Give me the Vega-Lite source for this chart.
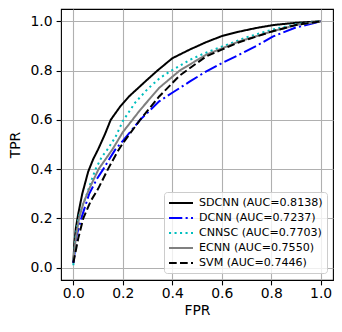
{
  "$schema": "https://vega.github.io/schema/vega-lite/v6.json",
  "width": 272,
  "height": 271,
  "autosize": {"type": "none"},
  "padding": {"left": 61, "top": 9, "right": 9, "bottom": 52},
  "config": {
    "font": "DejaVu Sans",
    "view": {"stroke": "black", "strokeWidth": 1.1},
    "axis": {
      "labelFont": "DejaVu Sans", "labelFontSize": 13.9, "labelColor": "black",
      "titleFont": "DejaVu Sans", "titleFontSize": 13.9, "titleFontWeight": "normal", "titleColor": "black",
      "gridColor": "#b0b0b0", "gridWidth": 1.1, "gridOpacity": 1,
      "domain": false, "tickColor": "black", "tickSize": 4.9, "tickWidth": 1.1
    }
  },
  "data": {"values": [
    {"model": "SDCNN (AUC=0.8138)", "fpr": 0, "tpr": 0.02},
    {"model": "SDCNN (AUC=0.8138)", "fpr": 0.004, "tpr": 0.1},
    {"model": "SDCNN (AUC=0.8138)", "fpr": 0.01, "tpr": 0.16},
    {"model": "SDCNN (AUC=0.8138)", "fpr": 0.02, "tpr": 0.22},
    {"model": "SDCNN (AUC=0.8138)", "fpr": 0.036, "tpr": 0.30},
    {"model": "SDCNN (AUC=0.8138)", "fpr": 0.06, "tpr": 0.39},
    {"model": "SDCNN (AUC=0.8138)", "fpr": 0.08, "tpr": 0.44},
    {"model": "SDCNN (AUC=0.8138)", "fpr": 0.1, "tpr": 0.48},
    {"model": "SDCNN (AUC=0.8138)", "fpr": 0.127, "tpr": 0.54},
    {"model": "SDCNN (AUC=0.8138)", "fpr": 0.151, "tpr": 0.60},
    {"model": "SDCNN (AUC=0.8138)", "fpr": 0.19, "tpr": 0.655},
    {"model": "SDCNN (AUC=0.8138)", "fpr": 0.225, "tpr": 0.695},
    {"model": "SDCNN (AUC=0.8138)", "fpr": 0.29, "tpr": 0.755},
    {"model": "SDCNN (AUC=0.8138)", "fpr": 0.34, "tpr": 0.80},
    {"model": "SDCNN (AUC=0.8138)", "fpr": 0.40, "tpr": 0.85},
    {"model": "SDCNN (AUC=0.8138)", "fpr": 0.47, "tpr": 0.885},
    {"model": "SDCNN (AUC=0.8138)", "fpr": 0.536, "tpr": 0.915},
    {"model": "SDCNN (AUC=0.8138)", "fpr": 0.6, "tpr": 0.94},
    {"model": "SDCNN (AUC=0.8138)", "fpr": 0.67, "tpr": 0.958},
    {"model": "SDCNN (AUC=0.8138)", "fpr": 0.74, "tpr": 0.973},
    {"model": "SDCNN (AUC=0.8138)", "fpr": 0.81, "tpr": 0.985},
    {"model": "SDCNN (AUC=0.8138)", "fpr": 0.9, "tpr": 0.994},
    {"model": "SDCNN (AUC=0.8138)", "fpr": 1, "tpr": 1},

    {"model": "DCNN (AUC=0.7237)", "fpr": 0, "tpr": 0.02},
    {"model": "DCNN (AUC=0.7237)", "fpr": 0.005, "tpr": 0.06},
    {"model": "DCNN (AUC=0.7237)", "fpr": 0.013, "tpr": 0.13},
    {"model": "DCNN (AUC=0.7237)", "fpr": 0.032, "tpr": 0.20},
    {"model": "DCNN (AUC=0.7237)", "fpr": 0.064, "tpr": 0.30},
    {"model": "DCNN (AUC=0.7237)", "fpr": 0.095, "tpr": 0.36},
    {"model": "DCNN (AUC=0.7237)", "fpr": 0.121, "tpr": 0.40},
    {"model": "DCNN (AUC=0.7237)", "fpr": 0.145, "tpr": 0.44},
    {"model": "DCNN (AUC=0.7237)", "fpr": 0.17, "tpr": 0.48},
    {"model": "DCNN (AUC=0.7237)", "fpr": 0.2, "tpr": 0.515},
    {"model": "DCNN (AUC=0.7237)", "fpr": 0.27, "tpr": 0.60},
    {"model": "DCNN (AUC=0.7237)", "fpr": 0.347, "tpr": 0.675},
    {"model": "DCNN (AUC=0.7237)", "fpr": 0.40, "tpr": 0.71},
    {"model": "DCNN (AUC=0.7237)", "fpr": 0.47, "tpr": 0.755},
    {"model": "DCNN (AUC=0.7237)", "fpr": 0.536, "tpr": 0.796},
    {"model": "DCNN (AUC=0.7237)", "fpr": 0.6, "tpr": 0.83},
    {"model": "DCNN (AUC=0.7237)", "fpr": 0.67, "tpr": 0.864},
    {"model": "DCNN (AUC=0.7237)", "fpr": 0.74, "tpr": 0.90},
    {"model": "DCNN (AUC=0.7237)", "fpr": 0.806, "tpr": 0.938},
    {"model": "DCNN (AUC=0.7237)", "fpr": 0.9, "tpr": 0.975},
    {"model": "DCNN (AUC=0.7237)", "fpr": 1, "tpr": 1},

    {"model": "CNNSC (AUC=0.7703)", "fpr": 0, "tpr": 0.01},
    {"model": "CNNSC (AUC=0.7703)", "fpr": 0.008, "tpr": 0.12},
    {"model": "CNNSC (AUC=0.7703)", "fpr": 0.02, "tpr": 0.2},
    {"model": "CNNSC (AUC=0.7703)", "fpr": 0.036, "tpr": 0.25},
    {"model": "CNNSC (AUC=0.7703)", "fpr": 0.055, "tpr": 0.30},
    {"model": "CNNSC (AUC=0.7703)", "fpr": 0.075, "tpr": 0.36},
    {"model": "CNNSC (AUC=0.7703)", "fpr": 0.09, "tpr": 0.40},
    {"model": "CNNSC (AUC=0.7703)", "fpr": 0.115, "tpr": 0.45},
    {"model": "CNNSC (AUC=0.7703)", "fpr": 0.138, "tpr": 0.48},
    {"model": "CNNSC (AUC=0.7703)", "fpr": 0.17, "tpr": 0.53},
    {"model": "CNNSC (AUC=0.7703)", "fpr": 0.2, "tpr": 0.595},
    {"model": "CNNSC (AUC=0.7703)", "fpr": 0.25, "tpr": 0.67},
    {"model": "CNNSC (AUC=0.7703)", "fpr": 0.3, "tpr": 0.725},
    {"model": "CNNSC (AUC=0.7703)", "fpr": 0.35, "tpr": 0.77},
    {"model": "CNNSC (AUC=0.7703)", "fpr": 0.39, "tpr": 0.796},
    {"model": "CNNSC (AUC=0.7703)", "fpr": 0.47, "tpr": 0.843},
    {"model": "CNNSC (AUC=0.7703)", "fpr": 0.53, "tpr": 0.87},
    {"model": "CNNSC (AUC=0.7703)", "fpr": 0.6, "tpr": 0.897},
    {"model": "CNNSC (AUC=0.7703)", "fpr": 0.7, "tpr": 0.935},
    {"model": "CNNSC (AUC=0.7703)", "fpr": 0.8, "tpr": 0.965},
    {"model": "CNNSC (AUC=0.7703)", "fpr": 0.9, "tpr": 0.988},
    {"model": "CNNSC (AUC=0.7703)", "fpr": 1, "tpr": 1},

    {"model": "ECNN (AUC=0.7550)", "fpr": 0, "tpr": 0.03},
    {"model": "ECNN (AUC=0.7550)", "fpr": 0.01, "tpr": 0.12},
    {"model": "ECNN (AUC=0.7550)", "fpr": 0.023, "tpr": 0.2},
    {"model": "ECNN (AUC=0.7550)", "fpr": 0.04, "tpr": 0.26},
    {"model": "ECNN (AUC=0.7550)", "fpr": 0.064, "tpr": 0.32},
    {"model": "ECNN (AUC=0.7550)", "fpr": 0.102, "tpr": 0.40},
    {"model": "ECNN (AUC=0.7550)", "fpr": 0.13, "tpr": 0.44},
    {"model": "ECNN (AUC=0.7550)", "fpr": 0.158, "tpr": 0.48},
    {"model": "ECNN (AUC=0.7550)", "fpr": 0.2, "tpr": 0.55},
    {"model": "ECNN (AUC=0.7550)", "fpr": 0.27, "tpr": 0.64},
    {"model": "ECNN (AUC=0.7550)", "fpr": 0.347, "tpr": 0.73},
    {"model": "ECNN (AUC=0.7550)", "fpr": 0.43, "tpr": 0.80},
    {"model": "ECNN (AUC=0.7550)", "fpr": 0.536, "tpr": 0.864},
    {"model": "ECNN (AUC=0.7550)", "fpr": 0.6, "tpr": 0.89},
    {"model": "ECNN (AUC=0.7550)", "fpr": 0.67, "tpr": 0.918},
    {"model": "ECNN (AUC=0.7550)", "fpr": 0.8, "tpr": 0.958},
    {"model": "ECNN (AUC=0.7550)", "fpr": 0.9, "tpr": 0.985},
    {"model": "ECNN (AUC=0.7550)", "fpr": 1, "tpr": 1},

    {"model": "SVM (AUC=0.7446)", "fpr": 0, "tpr": 0.02},
    {"model": "SVM (AUC=0.7446)", "fpr": 0.01, "tpr": 0.07},
    {"model": "SVM (AUC=0.7446)", "fpr": 0.02, "tpr": 0.12},
    {"model": "SVM (AUC=0.7446)", "fpr": 0.04, "tpr": 0.2},
    {"model": "SVM (AUC=0.7446)", "fpr": 0.07, "tpr": 0.27},
    {"model": "SVM (AUC=0.7446)", "fpr": 0.1, "tpr": 0.32},
    {"model": "SVM (AUC=0.7446)", "fpr": 0.14, "tpr": 0.40},
    {"model": "SVM (AUC=0.7446)", "fpr": 0.178, "tpr": 0.47},
    {"model": "SVM (AUC=0.7446)", "fpr": 0.2, "tpr": 0.505},
    {"model": "SVM (AUC=0.7446)", "fpr": 0.27, "tpr": 0.60},
    {"model": "SVM (AUC=0.7446)", "fpr": 0.347, "tpr": 0.695},
    {"model": "SVM (AUC=0.7446)", "fpr": 0.43, "tpr": 0.78},
    {"model": "SVM (AUC=0.7446)", "fpr": 0.536, "tpr": 0.857},
    {"model": "SVM (AUC=0.7446)", "fpr": 0.6, "tpr": 0.885},
    {"model": "SVM (AUC=0.7446)", "fpr": 0.67, "tpr": 0.915},
    {"model": "SVM (AUC=0.7446)", "fpr": 0.8, "tpr": 0.958},
    {"model": "SVM (AUC=0.7446)", "fpr": 0.9, "tpr": 0.985},
    {"model": "SVM (AUC=0.7446)", "fpr": 1, "tpr": 1}
  ]},
  "mark": {"type": "line", "strokeWidth": 2, "interpolate": "linear"},
  "encoding": {
    "x": {"field": "fpr", "type": "quantitative", "title": "FPR",
      "scale": {"domain": [-0.05, 1.05], "nice": false, "zero": false},
      "axis": {"values": [0, 0.2, 0.4, 0.6, 0.8, 1.0], "format": ".1f", "labelPadding": 1.5, "titlePadding": 3}},
    "y": {"field": "tpr", "type": "quantitative", "title": "TPR",
      "scale": {"domain": [-0.05, 1.05], "nice": false, "zero": false},
      "axis": {"values": [0, 0.2, 0.4, 0.6, 0.8, 1.0], "format": ".1f", "labelPadding": 4, "titlePadding": 8}},
    "order": {"field": "fpr", "type": "quantitative"},
    "color": {"field": "model", "type": "nominal",
      "scale": {
        "domain": ["SDCNN (AUC=0.8138)", "DCNN (AUC=0.7237)", "CNNSC (AUC=0.7703)", "ECNN (AUC=0.7550)", "SVM (AUC=0.7446)"],
        "range": ["#000000", "#0000ff", "#00bfbf", "#808080", "#000000"]},
      "legend": {
        "title": null, "orient": "none", "legendX": 103, "legendY": 183,
        "symbolType": "M-1,0H3", "symbolSize": 144, "symbolStrokeWidth": 2,
        "labelFontSize": 11.1, "labelFont": "DejaVu Sans", "labelColor": "black",
        "labelAlign": "left", "labelBaseline": "middle", "labelOffset": 17,
        "rowPadding": 2, "padding": 4, "fillColor": "rgba(255,255,255,0.8)",
        "strokeColor": "#cccccc", "cornerRadius": 3
      }},
    "strokeDash": {"field": "model", "type": "nominal",
      "scale": {
        "domain": ["SDCNN (AUC=0.8138)", "DCNN (AUC=0.7237)", "CNNSC (AUC=0.7703)", "ECNN (AUC=0.7550)", "SVM (AUC=0.7446)"],
        "range": [[1, 0], [13.3, 3.3, 2.1, 3.3], [2.1, 3.4], [1, 0], [7.7, 3.3]]},
      "legend": null}
  }
}
